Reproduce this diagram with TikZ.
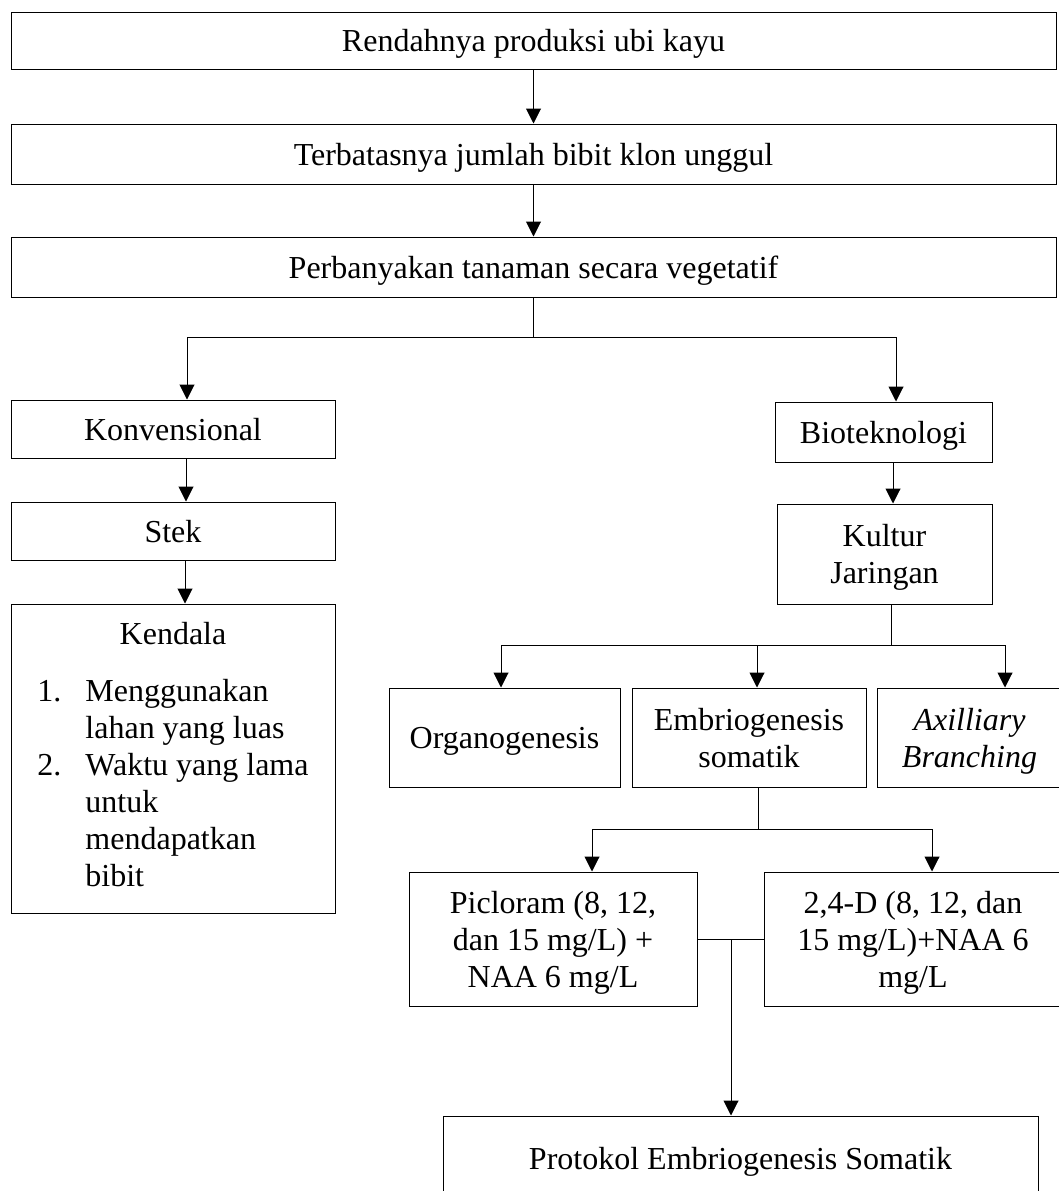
\documentclass[tikz,border=0pt]{standalone}
\usepackage{fontspec}
\setmainfont{Liberation Serif}
\usepackage{tikz}
\usetikzlibrary{positioning, arrows.meta}

\tikzset{
    box/.style={draw, rectangle, line width=1pt, align=center, inner sep=0pt, text depth=0pt,
        font=\fontsize{32}{37}\selectfont},
    italicbox/.style={box, font=\fontsize{32}{37}\selectfont\itshape},
}

\begin{document}
\begin{tikzpicture}[x=1pt, y=-1pt, on grid, line width=1pt, >={Triangle[width=15pt,length=15pt]}]
                \path[use as bounding box, fill=white] (0,0) rectangle (1058,1191);

                % TOP CHAIN
                \node[box, minimum width=1045pt, minimum height=57pt] (rendah) at (533.5,40.5) {Rendahnya produksi ubi kayu};
                \node[box, minimum width=1045pt, minimum height=60pt] (terbatas) [below=113.5pt of rendah] {Terbatasnya jumlah bibit klon unggul};
                \node[box, minimum width=1045pt, minimum height=60pt] (perbanyakan) [below=113pt of terbatas] {Perbanyakan tanaman secara vegetatif};

                % LEFT BRANCH
                \node[box, minimum width=324pt, minimum height=58pt] (konven) at (173,429) {Konvensional};
                \node[box, minimum width=324pt, minimum height=58pt] (stek) [below=102pt of konven] {Stek};
                \node[box, text depth={}, minimum width=324pt, minimum height=309pt] (kendala) at (173,758.5) {%
                    \begin{tabular}{@{}l@{\hspace{24pt}}l@{}}
                        \multicolumn{2}{c}{Kendala}\\[20pt]
                        1. & Menggunakan\\
                           & lahan yang luas\\
                        2. & Waktu yang lama\\
                           & untuk\\
                           & mendapatkan\\
                           & bibit
                    \end{tabular}};

                % RIGHT BRANCH
                \node[box, minimum width=217pt, minimum height=60pt] (bio) at (883.5,432) {Bioteknologi};
                \node[box, minimum width=215pt, minimum height=100pt] (kultur) at (884.5,554) {Kultur\\Jaringan};
                \node[box, minimum width=231pt, minimum height=99pt] (organo) at (504.5,737.5) {Organogenesis};
                \node[box, minimum width=234pt, minimum height=99pt] (embrio) at (749,737.5) {Embriogenesis\\somatik};
                \node[italicbox, minimum width=185pt, minimum height=99pt] (axil) at (969.5,737.5) {Axilliary\\Branching};
                \node[box, minimum width=288pt, minimum height=134pt] (picloram) at (553,939) {Picloram (8, 12,\\dan 15 mg/L) +\\NAA 6 mg/L};
                \node[box, minimum width=298pt, minimum height=134pt] (duaempat) at (913,939) {2,4-D (8, 12, dan\\15 mg/L)+NAA 6\\mg/L};
                \node[box, minimum width=595pt, minimum height=84pt] (protokol) at (740.5,1158) {Protokol Embriogenesis Somatik};

                % CONNECTORS
                \coordinate (cabang) at (533.5,337);
                \coordinate (cabangkultur) at (891,645);
                \coordinate (cabangembrio) at (758,829);
                \coordinate (gabung) at (731,939);

                \draw[->] (rendah) -- (terbatas);
                \draw[->] (terbatas) -- (perbanyakan);
                \draw (perbanyakan.south) -- (cabang);
                \draw[->] (cabang) -| ([xshift=14pt]konven.north);
                \draw[->] (cabang) -| ([xshift=12.5pt]bio.north);
                \draw[->] ([xshift=13pt]konven.south) -- ([xshift=13pt]stek.north);
                \draw[->] ([xshift=12pt]stek.south) -- ([xshift=12pt]kendala.north);
                \draw[->] ([xshift=9.5pt]bio.south) -- ([xshift=8.5pt]kultur.north);
                \draw ([xshift=6.5pt]kultur.south) -- (cabangkultur);
                \draw[->] (cabangkultur) -| ([xshift=-3.5pt]organo.north);
                \draw[->] (cabangkultur) -| ([xshift=8pt]embrio.north);
                \draw[->] (cabangkultur) -| ([xshift=35.5pt]axil.north);
                \draw ([xshift=9pt]embrio.south) -- (cabangembrio);
                \draw[->] (cabangembrio) -| ([xshift=39pt]picloram.north);
                \draw[->] (cabangembrio) -| ([xshift=19pt]duaempat.north);
                \draw (picloram.east) -- (duaempat.west);
                \draw[->] (gabung) -- (gabung |- protokol.north);

            \end{tikzpicture}
\end{document}
